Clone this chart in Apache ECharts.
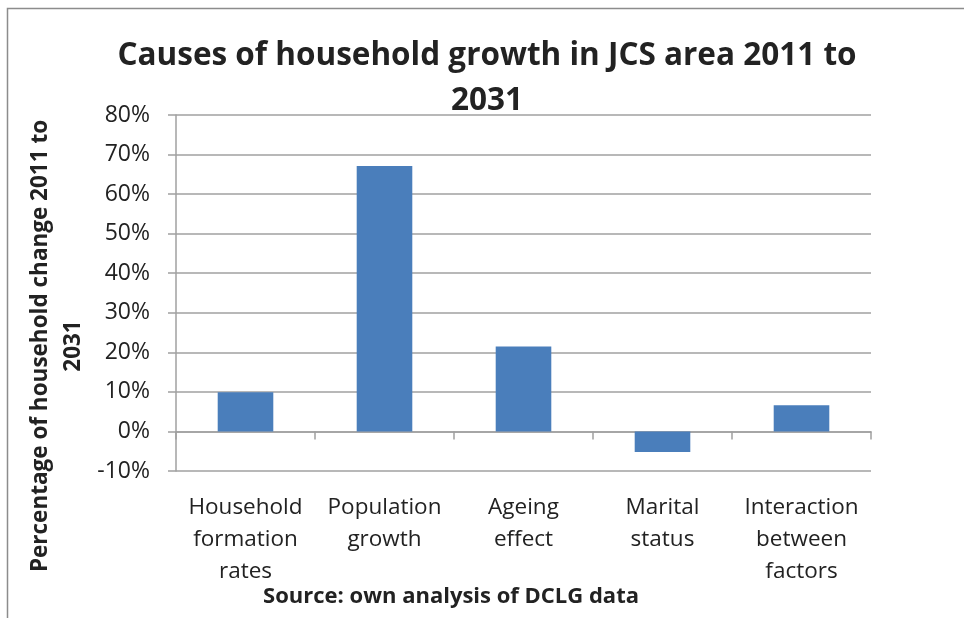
<!DOCTYPE html>
<html>
<head>
<meta charset="utf-8">
<script src="https://cdn.jsdelivr.net/npm/echarts@6/dist/echarts.min.js"></script>
<style>
  html, body { margin: 0; padding: 0; background: #fff; }
  #HouseholdGrowth { width: 964px; height: 618px; }
</style>
</head>
<body>
<div id="HouseholdGrowth"></div>
<script>
// chart data
const categories = ['Household formation rates', 'Population growth', 'Ageing effect', 'Marital status', 'Interaction between factors'];
const changePct = [9.9, 67.1, 21.5, -5.2, 6.6];
const yTicks = [-10, 0, 10, 20, 30, 40, 50, 60, 70, 80];

const titleText = 'Causes of household growth in JCS area 2011 to\n2031';
const yTitle = 'Percentage of household change 2011 to\n2031';
const sourceText = 'Source: own analysis of DCLG data';

const font = '"Open Sans", Lato, sans-serif';
const textColor = '#222';
const lineColor = '#a0a0a0';

const myChart = echarts.init(document.getElementById('HouseholdGrowth'));

const option = {
  animation: false,
  backgroundColor: '#fff',
  textStyle: { fontFamily: font },
  grid: { left: 176, right: 93, top: 115, bottom: 147, containLabel: false },
  graphic: [
    {
      type: 'rect',
      shape: { x: 7.5, y: 8.5, width: 1000, height: 700 },
      style: { fill: 'none', stroke: '#8c8c8c', lineWidth: 1.5 },
      silent: true
    },
    {
      type: 'text',
      x: 487, y: 79,
      style: {
        text: titleText, fontFamily: font, fontWeight: 'bold', fontSize: 31.5,
        lineHeight: 45, fill: textColor, align: 'center', verticalAlign: 'middle'
      }
    },
    {
      type: 'text',
      x: 57, y: 346,
      rotation: Math.PI / 2,
      style: {
        text: yTitle, fontFamily: font, fontWeight: 'bold', fontSize: 22.5,
        lineHeight: 33, fill: textColor, align: 'center', verticalAlign: 'middle'
      }
    },
    {
      type: 'text',
      x: 451, y: 597,
      style: {
        text: sourceText, fontFamily: font, fontWeight: 'bold', fontSize: 22,
        fill: textColor, align: 'center', verticalAlign: 'middle'
      }
    }
  ],
  xAxis: [
    {
      type: 'category',
      data: categories,
      axisLine: { onZero: true, lineStyle: { color: lineColor, width: 1.5 } },
      axisTick: { show: true, interval: 0, length: 8, lineStyle: { color: lineColor, width: 1.5 } },
      axisLabel: { show: false },
      splitLine: { show: false }
    },
    {
      type: 'category',
      data: categories,
      position: 'bottom',
      axisLine: { show: false, onZero: false },
      axisTick: { show: false },
      axisLabel: {
        margin: 21,
        interval: 0,
        color: textColor,
        fontSize: 22.5,
        lineHeight: 32,
        fontFamily: font,
        formatter: v => v.split(' ').join('\n')
      }
    }
  ],
  yAxis: {
    type: 'value',
    min: yTicks[0],
    max: yTicks[yTicks.length - 1],
    interval: 10,
    axisLine: { show: true, lineStyle: { color: lineColor, width: 1.5 } },
    axisTick: { show: true, length: 8, lineStyle: { color: lineColor, width: 1.5 } },
    axisLabel: { margin: 26, color: textColor, fontSize: 23, fontFamily: font, formatter: '{value}%' },
    splitLine: { show: true, lineStyle: { color: lineColor, width: 1.5 } }
  },
  series: [
    {
      type: 'bar',
      xAxisIndex: 0,
      data: changePct,
      barWidth: '40%',
      itemStyle: { color: '#4a7ebb' }
    }
  ]
};

myChart.setOption(option);
</script>
</body>
</html>
